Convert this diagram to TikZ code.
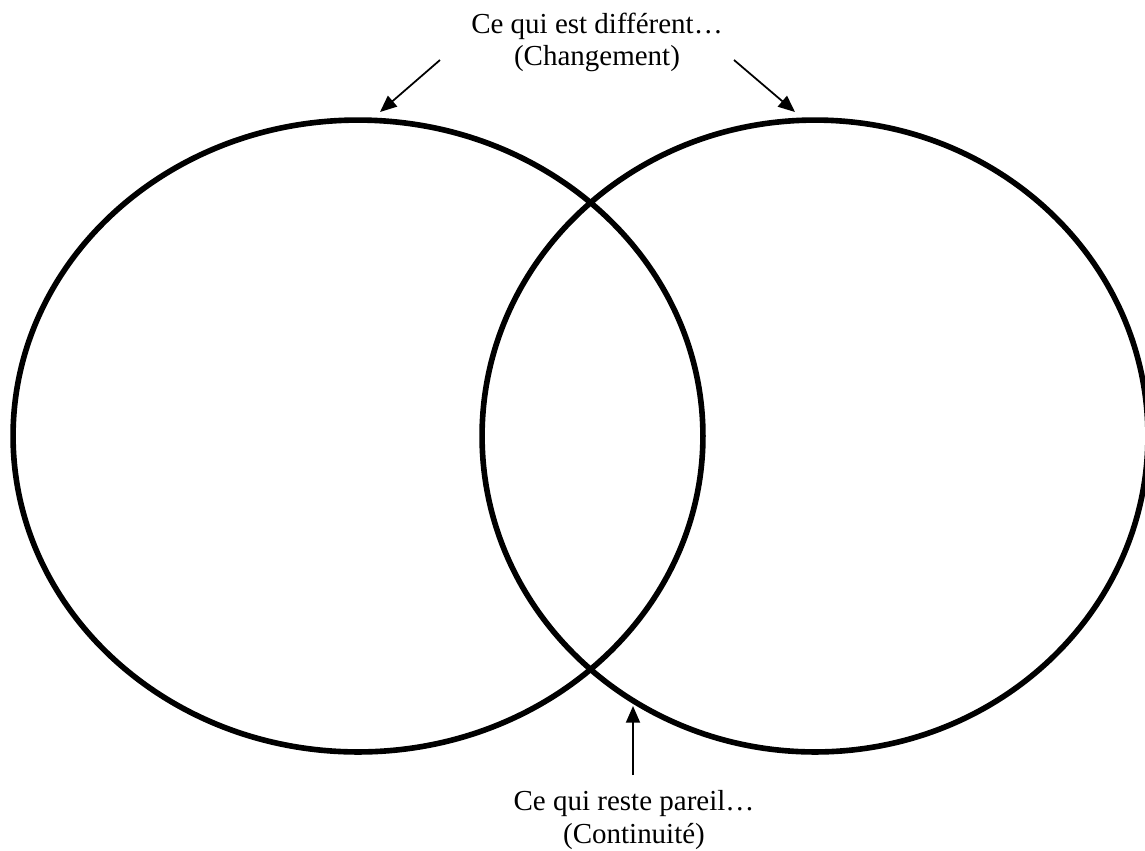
\documentclass[tikz,border=0pt]{standalone}
\usepackage{fontspec}
\setmainfont{Liberation Serif}
\usetikzlibrary{arrows.meta}
\begin{document}
\begin{tikzpicture}[x=0.02cm,y=-0.02cm,
	ring/.style={line width=3.2pt},
	pointer/.style={line width=1pt,-{Triangle[length=9.5pt,width=8pt]}},
	caption/.style={align=center,inner sep=0pt,font=\fontsize{16.5}{18.3}\selectfont}]
	\useasboundingbox (0,0) rectangle (1145,850);
	
	% the two sets
	\draw[ring] (358,436) ellipse [x radius=6.9cm, y radius=6.32cm];
	\draw[ring] (815,436) ellipse [x radius=6.66cm, y radius=6.32cm];
	
	\node[caption] (diff) at (597,42) {Ce qui est différent…\\(Changement)};
	\node[caption] (same) at (634,820) {Ce qui reste pareil…\\(Continuité)};
	
	\coordinate (lefttip) at (380,112);
	\coordinate (righttip) at (795,112);
	\coordinate (midtip) at (633,706);
	\coordinate (lefttail) at (440,60);
	\coordinate (righttail) at (734,60);
	\coordinate (midtail) at (633,775);
	
	\draw[pointer] (lefttail) -- (lefttip);
	\draw[pointer] (righttail) -- (righttip);
	\draw[pointer] (midtail) -- (midtip);
\end{tikzpicture}
\end{document}
